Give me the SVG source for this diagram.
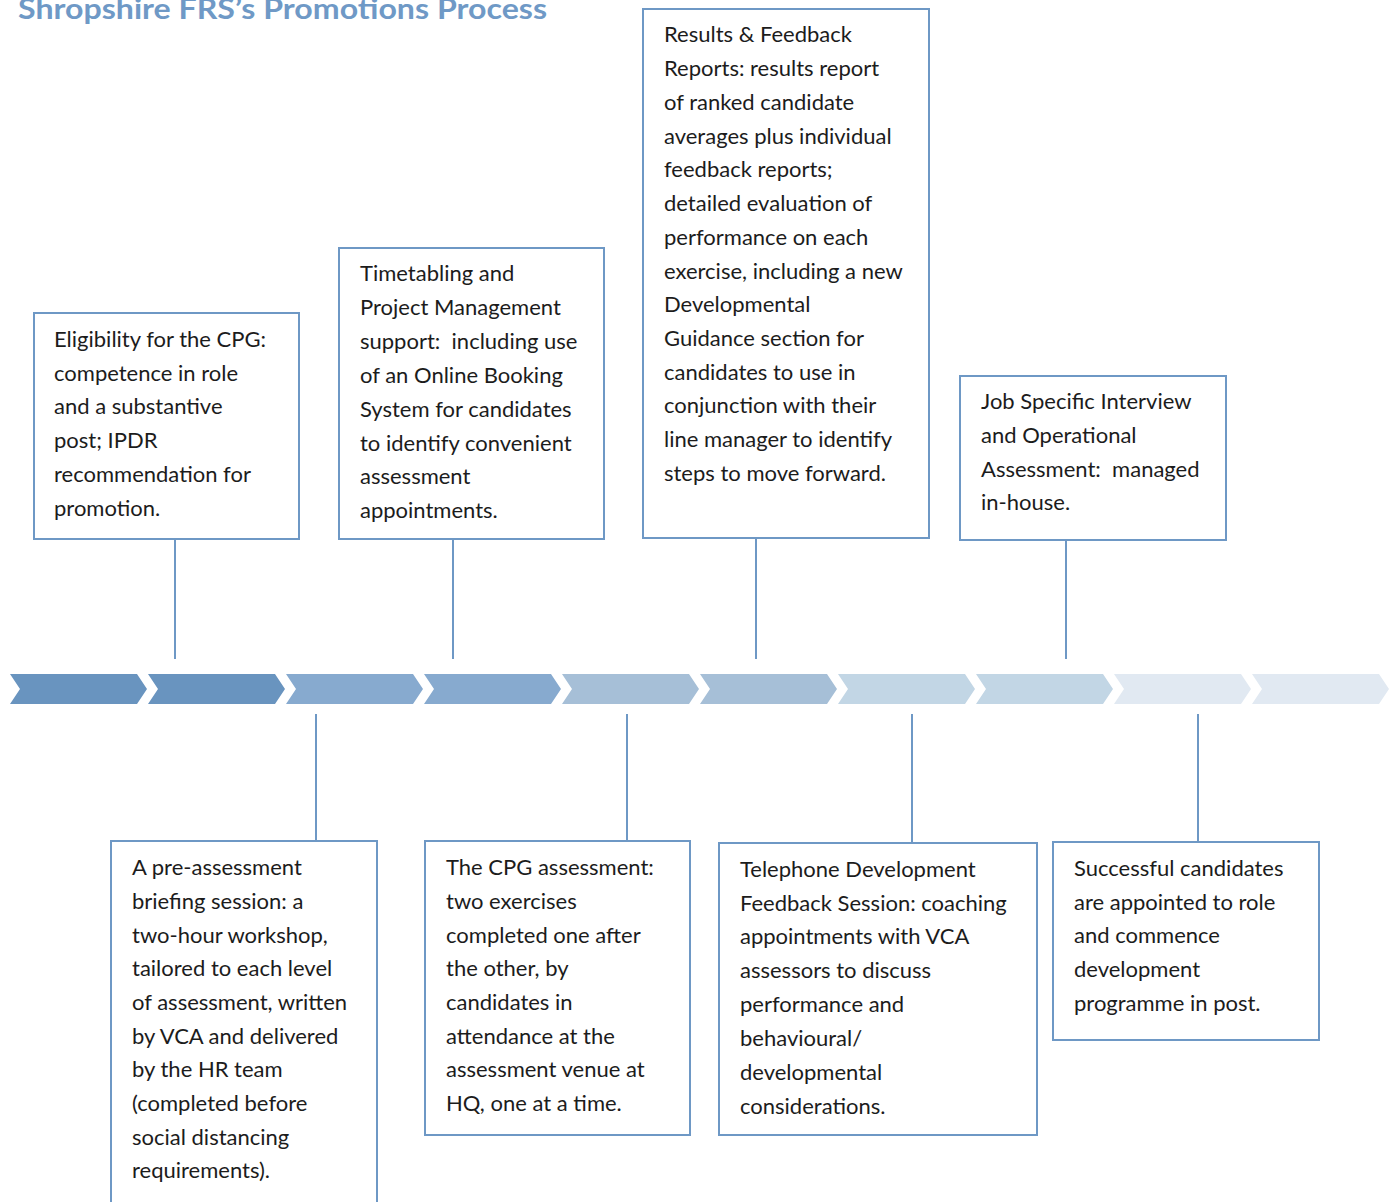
<svg xmlns="http://www.w3.org/2000/svg" width="1394" height="1202" viewBox="0 0 1394 1202">
<style>
.t{font-family:Lato,"Liberation Sans",sans-serif;font-size:22px;fill:#1c1c1c;white-space:pre}
.box{fill:#ffffff;stroke:#6E98C5;stroke-width:2}
.con{stroke:#6E98C5;stroke-width:2;fill:none}
.title{font-family:Lato,"Liberation Sans",sans-serif;font-size:28px;font-weight:bold;fill:#6F99C6}
</style>
<defs>
<polygon id="chev" points="0,0 127,0 137,15 127,30 0,30 10,15"/>
</defs>
<rect width="1394" height="1202" fill="#ffffff"/>
<text class="title" x="18" y="19" textLength="529" lengthAdjust="spacingAndGlyphs">Shropshire FRS’s Promotions Process</text>

<g id="timeline">
<use href="#chev" x="10" y="674" fill="#6994BF"/>
<use href="#chev" x="148" y="674" fill="#6994BF"/>
<use href="#chev" x="286" y="674" fill="#87AACF"/>
<use href="#chev" x="424" y="674" fill="#87AACF"/>
<use href="#chev" x="562" y="674" fill="#A6BFD7"/>
<use href="#chev" x="700" y="674" fill="#A6BFD7"/>
<use href="#chev" x="838" y="674" fill="#C2D6E5"/>
<use href="#chev" x="976" y="674" fill="#C2D6E5"/>
<use href="#chev" x="1114" y="674" fill="#E1E9F2"/>
<use href="#chev" x="1252" y="674" fill="#E1E9F2"/>
</g>

<g id="connectors">
<line class="con" x1="175" y1="524" x2="175" y2="659"/>
<line class="con" x1="453" y1="539" x2="453" y2="659"/>
<line class="con" x1="756" y1="538" x2="756" y2="659"/>
<line class="con" x1="1066" y1="540" x2="1066" y2="659"/>
<line class="con" x1="316" y1="714" x2="316" y2="841"/>
<line class="con" x1="627" y1="714" x2="627" y2="841"/>
<line class="con" x1="912" y1="714" x2="912" y2="843"/>
<line class="con" x1="1198" y1="714" x2="1198" y2="842"/>
</g>

<g id="n-eligibility">
<rect class="box" x="34" y="313" width="265" height="226"/>
<text class="t"><tspan x="54" y="347">Eligibility for the CPG:</tspan><tspan x="54" y="381">competence in role</tspan><tspan x="54" y="414">and a substantive</tspan><tspan x="54" y="448">post; IPDR</tspan><tspan x="54" y="482">recommendation for</tspan><tspan x="54" y="516">promotion.</tspan></text>
</g>

<g id="n-timetabling">
<rect class="box" x="339" y="248" width="265" height="291"/>
<text class="t"><tspan x="360" y="281">Timetabling and</tspan><tspan x="360" y="315">Project Management</tspan><tspan x="360" y="349">support:  including use</tspan><tspan x="360" y="383">of an Online Booking</tspan><tspan x="360" y="417">System for candidates</tspan><tspan x="360" y="451">to identify convenient</tspan><tspan x="360" y="484">assessment</tspan><tspan x="360" y="518">appointments.</tspan></text>
</g>

<g id="n-results">
<rect class="box" x="643" y="9" width="286" height="529"/>
<text class="t"><tspan x="664" y="42">Results &amp; Feedback</tspan><tspan x="664" y="76">Reports: results report</tspan><tspan x="664" y="110">of ranked candidate</tspan><tspan x="664" y="144">averages plus individual</tspan><tspan x="664" y="177">feedback reports;</tspan><tspan x="664" y="211">detailed evaluation of</tspan><tspan x="664" y="245">performance on each</tspan><tspan x="664" y="279">exercise, including a new</tspan><tspan x="664" y="312">Developmental</tspan><tspan x="664" y="346">Guidance section for</tspan><tspan x="664" y="380">candidates to use in</tspan><tspan x="664" y="413">conjunction with their</tspan><tspan x="664" y="447">line manager to identify</tspan><tspan x="664" y="481">steps to move forward.</tspan></text>
</g>

<g id="n-interview">
<rect class="box" x="960" y="376" width="266" height="164"/>
<text class="t"><tspan x="981" y="409">Job Specific Interview</tspan><tspan x="981" y="443">and Operational</tspan><tspan x="981" y="477">Assessment:  managed</tspan><tspan x="981" y="510">in-house.</tspan></text>
</g>

<g id="n-briefing">
<rect class="box" x="111" y="841" width="266" height="380"/>
<text class="t"><tspan x="132" y="875">A pre-assessment</tspan><tspan x="132" y="909">briefing session: a</tspan><tspan x="132" y="943">two-hour workshop,</tspan><tspan x="132" y="976">tailored to each level</tspan><tspan x="132" y="1010">of assessment, written</tspan><tspan x="132" y="1044">by VCA and delivered</tspan><tspan x="132" y="1077">by the HR team</tspan><tspan x="132" y="1111">(completed before</tspan><tspan x="132" y="1145">social distancing</tspan><tspan x="132" y="1178">requirements).</tspan></text>
</g>

<g id="n-cpg">
<rect class="box" x="425" y="841" width="265" height="294"/>
<text class="t"><tspan x="446" y="875">The CPG assessment:</tspan><tspan x="446" y="909">two exercises</tspan><tspan x="446" y="943">completed one after</tspan><tspan x="446" y="976">the other, by</tspan><tspan x="446" y="1010">candidates in</tspan><tspan x="446" y="1044">attendance at the</tspan><tspan x="446" y="1077">assessment venue at</tspan><tspan x="446" y="1111">HQ, one at a time.</tspan></text>
</g>

<g id="n-telephone">
<rect class="box" x="719" y="843" width="318" height="292"/>
<text class="t"><tspan x="740" y="877">Telephone Development</tspan><tspan x="740" y="911">Feedback Session: coaching</tspan><tspan x="740" y="944">appointments with VCA</tspan><tspan x="740" y="978">assessors to discuss</tspan><tspan x="740" y="1012">performance and</tspan><tspan x="740" y="1046">behavioural/</tspan><tspan x="740" y="1080">developmental</tspan><tspan x="740" y="1114">considerations.</tspan></text>
</g>

<g id="n-successful">
<rect class="box" x="1053" y="842" width="266" height="198"/>
<text class="t"><tspan x="1074" y="876">Successful candidates</tspan><tspan x="1074" y="910">are appointed to role</tspan><tspan x="1074" y="943">and commence</tspan><tspan x="1074" y="977">development</tspan><tspan x="1074" y="1011">programme in post.</tspan></text>
</g>
</svg>
